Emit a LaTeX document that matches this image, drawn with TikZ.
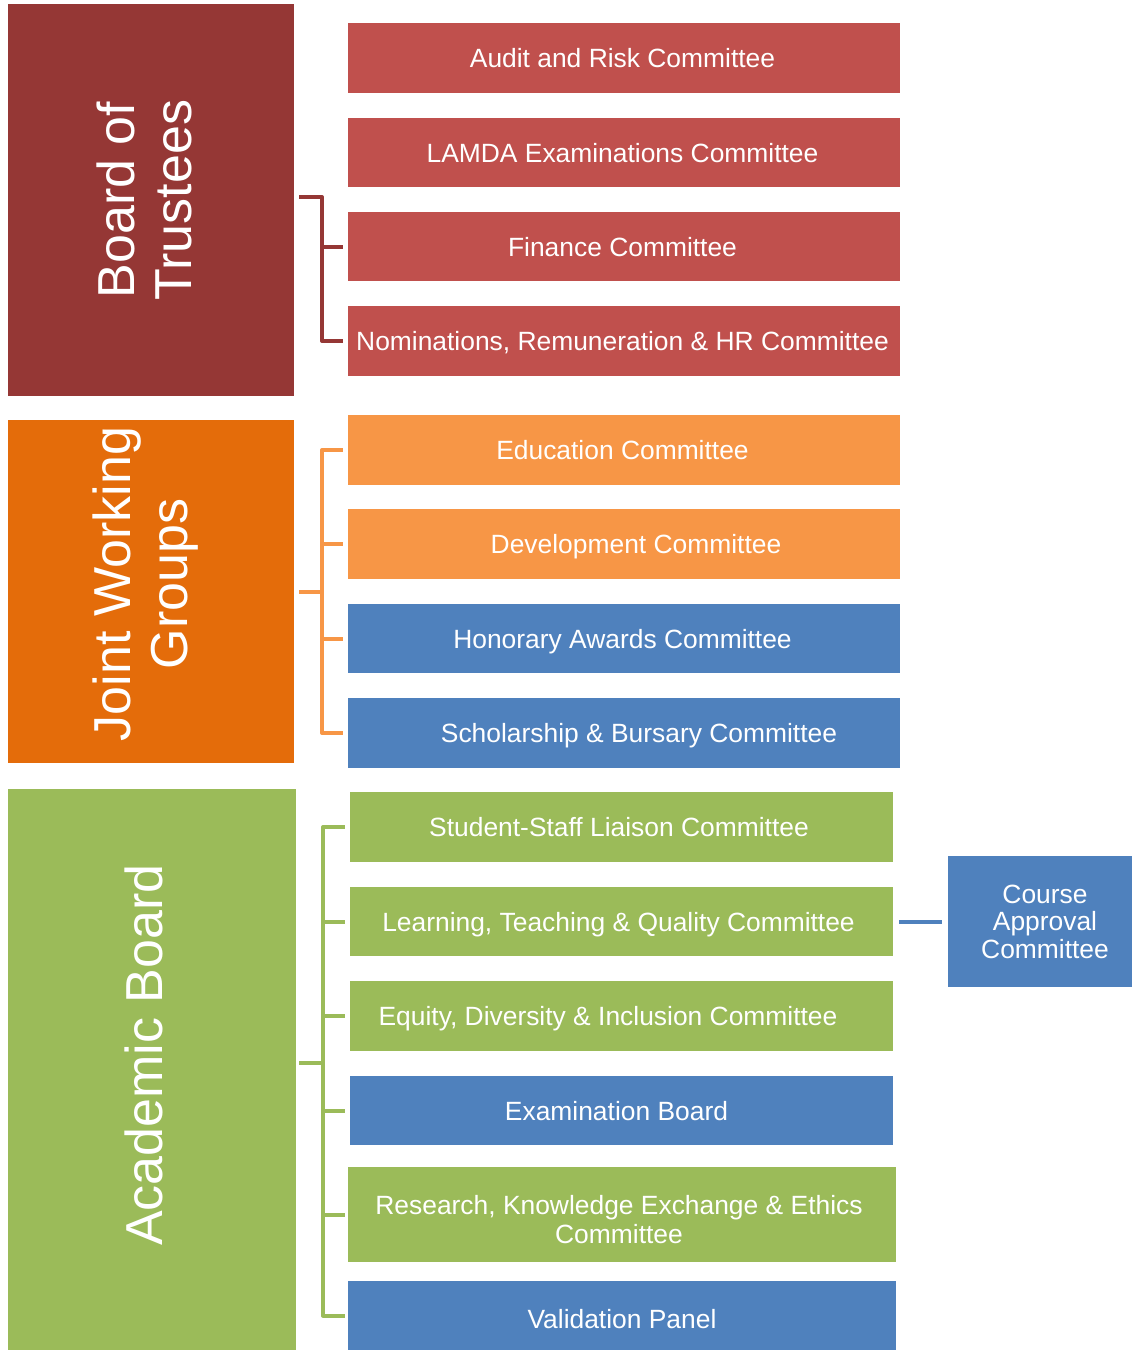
\documentclass[tikz,border=0pt]{standalone}
\usepackage{fontspec}
\setmainfont{Liberation Sans}
\definecolor{bdred}{RGB}{149,55,53}
\definecolor{cred}{RGB}{192,80,77}
\definecolor{jorange}{RGB}{228,108,10}
\definecolor{corange}{RGB}{247,150,70}
\definecolor{cblue}{RGB}{79,129,189}
\definecolor{cgreen}{RGB}{155,187,89}
\begin{document}
\begin{tikzpicture}[x=1pt,y=-1pt,
  box/.style={rectangle, inner sep=0pt, draw=none, text=white, align=center,
    font=\fontsize{26.4}{29.3}\selectfont},
  sbox/.style={box, text height=25pt, text depth=5.6pt},
  red/.style={sbox, fill=cred, minimum width=552pt},
  org/.style={sbox, fill=corange, minimum width=552pt},
  blu/.style={sbox, fill=cblue},
  grn/.style={sbox, fill=cgreen},
  head/.style={rectangle, inner sep=0pt, draw=none},
  headtext/.style={inner sep=0pt, text=white, align=center, rotate=90,
    font=\fontsize{52}{57}\selectfont},
  brk/.style={line width=4pt, line join=round, line cap=butt}]
\fill[white] (0,0) rectangle (1132,1350);
\useasboundingbox (0,0) rectangle (1132,1350);
\begin{scope}
\clip (0,0) rectangle (1132,1350);
% heads
\node[head, fill=bdred, minimum width=286pt, minimum height=392pt] (bt) at (151,200) {};
\node[headtext] (btl) at (144,200) {Board of\\Trustees};
\node[head, fill=jorange, minimum width=286pt, minimum height=343pt] (jw) at (151,591.5) {};
\node[headtext] (jwl) at (146,584) {Joint Working\\Groups};
\node[head, fill=cgreen, minimum width=288pt, minimum height=561pt] (ab) at (152,1069.5) {};
\node[headtext] (abl) at (144,1055) {Academic Board};
% trustees committees
\node[red, minimum height=70pt] (arc) at (624,58) {Audit and Risk Committee\hspace*{3pt}};
\node[red, minimum height=69pt] (lec) at (624,152.5) {LAMDA Examinations Committee\hspace*{3pt}};
\node[red, minimum height=69pt] (fin) at (624,246.5) {Finance Committee\hspace*{3pt}};
\node[red, minimum height=70pt] (nom) at (624,341) {Nominations, Remuneration \& HR Committee\hspace*{3pt}};
% joint working groups
\node[org, minimum height=70pt] (edu) at (624,450) {Education Committee\hspace*{3pt}};
\node[org, minimum height=70pt] (dev) at (624,544) {\hspace*{24pt}Development Committee};
\node[blu, minimum width=552pt, minimum height=69pt] (hon) at (624,638.5) {Honorary Awards Committee\hspace*{3pt}};
\node[blu, minimum width=552pt, minimum height=70pt] (sch) at (624,733) {\hspace*{30pt}Scholarship \& Bursary Committee};
% academic board
\node[grn, minimum width=543pt, minimum height=70pt] (ssl) at (621.5,827) {Student-Staff Liaison Committee\hspace*{5pt}};
\node[grn, minimum width=543pt, minimum height=69pt] (ltq) at (621.5,921.5) {Learning, Teaching \& Quality Committee\hspace*{6pt}};
\node[grn, minimum width=543pt, minimum height=70pt] (edi) at (621.5,1016) {Equity, Diversity \& Inclusion Committee\hspace*{27pt}};
\node[blu, minimum width=543pt, minimum height=69pt] (exb) at (621.5,1110.5) {Examination Board\hspace*{10pt}};
\node[box, fill=cgreen, minimum width=548pt, minimum height=95pt, text height=21pt, text depth=22pt] (rke) at (622,1214.5)
  {\begin{tabular}[t]{@{}c@{}}Research, Knowledge Exchange \& Ethics\\Committee\end{tabular}\hspace*{6pt}};
\node[blu, minimum width=548pt, minimum height=69pt, text height=32pt] (val) at (622,1315.5) {Validation Panel};
\node[box, fill=cblue, minimum width=184pt, minimum height=131pt, font=\fontsize{26.4}{27.5}\selectfont] (cac) at (1040,921.5) {\hspace*{10pt}Course\\\hspace*{10pt}Approval\\\hspace*{10pt}Committee};
\end{scope}
% brackets: trustees
\coordinate (t1) at (322,197);
\draw[brk, bdred] ([xshift=5pt]bt.east |- t1) -- (t1) |- ([xshift=-5pt]nom.west);
\draw[brk, bdred] (t1 |- fin.west) -- ([xshift=-5pt]fin.west);
% brackets: joint working groups
\coordinate (t2) at (322,592);
\draw[brk, corange] ([xshift=5pt]jw.east |- t2) -- (t2);
\draw[brk, corange] ([xshift=-5pt]edu.west) -| (t2) |- ([xshift=-5pt]sch.west);
\draw[brk, corange] (t2 |- dev.west) -- ([xshift=-5pt]dev.west);
\draw[brk, corange] (t2 |- hon.west) -- ([xshift=-5pt]hon.west);
% brackets: academic board
\coordinate (t3) at (323,1063);
\draw[brk, cgreen] ([xshift=3pt]ab.east |- t3) -- (t3);
\draw[brk, cgreen] ([xshift=-5pt]ssl.west) -| (t3) |- ([xshift=-3pt]val.west);
\draw[brk, cgreen] (t3 |- ltq.west) -- ([xshift=-5pt]ltq.west);
\draw[brk, cgreen] (t3 |- edi.west) -- ([xshift=-5pt]edi.west);
\draw[brk, cgreen] (t3 |- exb.west) -- ([xshift=-5pt]exb.west);
\draw[brk, cgreen] (t3 |- rke.west) -- ([xshift=-3pt]rke.west);
% course approval link
\draw[brk, cblue] ([xshift=6pt]ltq.east) -- ([xshift=-6pt]cac.west);
\end{tikzpicture}
\end{document}
